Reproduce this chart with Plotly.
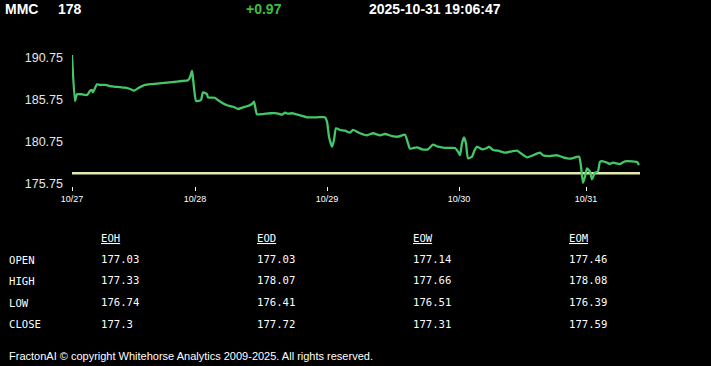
import plotly.graph_objects as go

# ---------------- data ----------------
symbol = "MMC"
last_price = "178"
change = "+0.97"
timestamp = "2025-10-31 19:06:47"

bar_index = [0, 3, 5, 10, 15, 18, 20, 21, 25, 28, 33, 40, 46, 53, 58, 62, 66, 73, 80, 90,
             100, 110, 116, 118, 120, 121, 124, 126, 129, 131, 135, 136, 143, 145, 150, 155,
             161, 166, 171, 176, 180, 182, 185, 191, 198, 205, 210, 213, 216, 221, 228, 235,
             245, 253, 255, 257, 260, 262, 264, 268, 273, 278, 281, 285, 288, 295, 301, 308,
             313, 320, 326, 333, 336, 338, 345, 350, 356, 361, 366, 373, 383, 386, 388, 390,
             392, 394, 396, 400, 402, 405, 410, 415, 417, 421, 426, 433, 440, 445, 448, 455,
             461, 468, 471, 478, 485, 491, 498, 507, 509, 511, 513, 515, 518, 520, 523, 526,
             528, 531, 535, 538, 541, 548, 553, 560, 565, 567]
price = [191.11, 185.63, 186.43, 186.43, 186.35, 186.82, 186.94, 186.67, 187.62, 187.54,
         187.54, 187.38, 187.30, 187.21, 187.06, 186.86, 187.14, 187.54, 187.65, 187.77,
         187.89, 188.01, 188.10, 188.45, 189.20, 188.33, 185.63, 185.63, 185.75, 186.67,
         186.43, 186.07, 186.02, 185.83, 185.43, 185.12, 184.95, 184.68, 184.88, 185.04,
         185.27, 185.55, 184.05, 184.08, 184.17, 184.17, 184.00, 184.24, 184.12, 184.17,
         183.93, 183.69, 183.69, 183.69, 183.17, 181.38, 180.19, 180.99, 182.38, 182.18,
         182.10, 181.86, 182.18, 181.98, 181.79, 181.55, 181.79, 181.55, 181.70, 181.46,
         181.38, 181.62, 180.60, 179.95, 180.12, 179.88, 179.88, 180.43, 180.19, 180.04,
         180.04, 179.60, 179.20, 180.60, 181.31, 180.60, 178.81, 179.00, 179.60, 180.19,
         179.88, 180.04, 180.19, 179.80, 179.71, 179.48, 179.64, 179.71, 179.48, 178.93,
         179.17, 179.48, 179.17, 179.08, 179.17, 178.93, 178.76, 179.00, 177.81, 175.90,
         176.62, 177.62, 177.21, 176.31, 177.10, 177.26, 178.40, 178.45, 178.29, 178.13,
         178.29, 178.13, 178.45, 178.45, 178.37, 178.01]

ref_level = 177.03
day_ticks = [0, 123, 255, 387, 514]
day_labels = ["10/27", "10/28", "10/29", "10/30", "10/31"]
y_ticks = [175.75, 180.75, 185.75, 190.75]

row_labels = ["OPEN", "HIGH", "LOW", "CLOSE"]
col_labels = ["EOH", "EOD", "EOW", "EOM"]
eoh = ["177.03", "177.33", "176.74", "177.3"]
eod = ["177.03", "178.07", "176.41", "177.72"]
eow = ["177.14", "177.66", "176.51", "177.31"]
eom = ["177.46", "178.08", "176.39", "177.59"]
footer = "FractonAI © copyright Whitehorse Analytics 2009-2025. All rights reserved."

# ---------------- layout constants ----------------
W, H = 711, 366
ML, MR, MT, MB = 72, 71, 52, 180
PW, PH = W - ML - MR, H - MT - MB


def px(x):
    return (x - ML) / PW


def py(y):
    return (H - MB - y) / PH


SANS = "Liberation Sans, Arial, sans-serif"
MONO = "DejaVu Sans Mono, monospace"

fig = go.Figure()
fig.add_trace(go.Scatter(
    x=[bar_index[0], bar_index[-1] + 1], y=[ref_level, ref_level], mode="lines",
    line=dict(color="#e2ebab", width=2.5), hoverinfo="skip", showlegend=False))
fig.add_trace(go.Scatter(
    x=bar_index, y=price, mode="lines",
    line=dict(color="#44c767", width=2.3, shape="spline", smoothing=0.5),
    showlegend=False))

ann = []
# header
hdr_y = py(8.5)
ann.append(dict(text="<b>%s</b>" % symbol, x=px(2.5), y=hdr_y, xanchor="left",
                font=dict(family=SANS, size=14, color="white")))
ann.append(dict(text="<b>%s</b>" % last_price, x=px(56), y=hdr_y, xanchor="left",
                font=dict(family=SANS, size=14, color="white")))
ann.append(dict(text="<b>%s</b>" % change, x=px(244), y=hdr_y, xanchor="left",
                font=dict(family=SANS, size=14, color="#3fbf3f")))
ann.append(dict(text="<b>%s</b>" % timestamp, x=px(367), y=hdr_y, xanchor="left",
                font=dict(family=SANS, size=14, color="white")))

# table
col_x = [99, 255, 411, 567]
row_y = [259, 280.5, 302, 324]
cols = [eoh, eod, eow, eom]
for cx, lab in zip(col_x, col_labels):
    ann.append(dict(text="<u>%s</u>" % lab, x=px(cx), y=py(238), xanchor="left",
                    font=dict(family=MONO, size=10.6, color="white")))
for ry, lab in zip(row_y, row_labels):
    ann.append(dict(text=lab, x=px(7), y=py(ry + 0.5), xanchor="left",
                    font=dict(family=MONO, size=10.6, color="white")))
for cx, vals in zip(col_x, cols):
    for ry, v in zip(row_y, vals):
        ann.append(dict(text=v, x=px(cx), y=py(ry - 0.5), xanchor="left",
                        font=dict(family=MONO, size=10.6, color="white")))

ann.append(dict(text=footer, x=px(7), y=py(355.5), xanchor="left",
                font=dict(family=SANS, size=11, color="white")))

for a in ann:
    a.update(xref="paper", yref="paper", yanchor="middle", showarrow=False)

fig.update_layout(
    width=W, height=H,
    margin=dict(l=ML, r=MR, t=MT, b=MB, pad=0),
    paper_bgcolor="black", plot_bgcolor="black",
    annotations=ann,
    xaxis=dict(range=[0, PW], tickmode="array", tickvals=day_ticks, ticktext=day_labels,
               showgrid=False, zeroline=False, showline=False,
               ticks="outside", ticklen=4, tickwidth=1, tickcolor="white",
               tickfont=dict(family=SANS, size=9, color="white")),
    yaxis=dict(range=[175.512, 191.464], tickmode="array", tickvals=y_ticks,
               ticktext=["%.2f" % v for v in y_ticks],
               showgrid=False, zeroline=False, showline=False, ticks="",
               ticklabelstandoff=8,
               tickfont=dict(family=SANS, size=12.5, color="#e6e6e6")),
    hovermode=False,
)

fig.write_html("out.html", config={"displayModeBar": False},
               post_script="document.body.style.margin='0';document.body.style.background='black';")
